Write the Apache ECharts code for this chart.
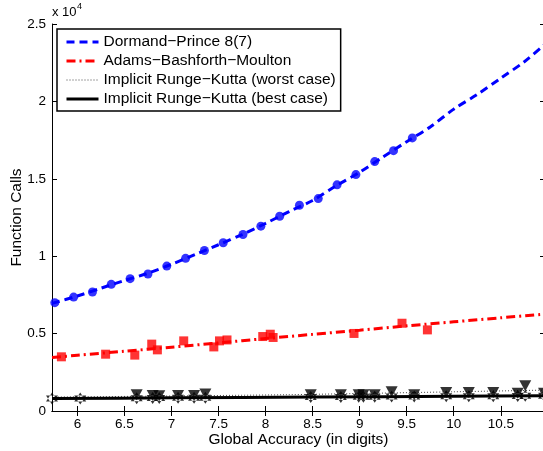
<!DOCTYPE html>
<html><head><meta charset="utf-8">
<script src="https://cdn.jsdelivr.net/npm/echarts@6/dist/echarts.min.js"></script>
<style>html,body{margin:0;padding:0;background:#fff}#c{width:543px;height:451px}</style>
</head><body><div id="c"></div>
<script>
// ---- data (x = global accuracy in digits, y = function calls) ----
const xTicks = [6, 6.5, 7, 7.5, 8, 8.5, 9, 9.5, 10, 10.5];
const yTicks = [0, 5000, 10000, 15000, 20000, 25000];

const dpFit = [[5.73,6950],[6.0,7430],[6.25,7930],[6.5,8430],[6.75,8900],[7.0,9480],[7.25,10100],[7.5,10740],[7.75,11400],[8.0,12120],[8.25,12880],[8.5,13600],[8.75,14550],[9.0,15420],[9.25,16420],[9.5,17400],[9.75,18350],[10.0,19500],[10.25,20450],[10.5,21500],[10.75,22560],[10.97,23700]];
const dpPts = [[5.76,7000],[5.96,7360],[6.16,7690],[6.36,8180],[6.56,8550],[6.75,8850],[6.95,9360],[7.15,9860],[7.35,10370],[7.55,10870],[7.76,11400],[7.95,11940],[8.15,12580],[8.36,13290],[8.56,13720],[8.76,14610],[8.96,15270],[9.16,16110],[9.36,16820],[9.56,17640]];

const abmFit = [[5.73,3450],[6.0,3600],[6.5,3860],[7.0,4120],[7.5,4400],[8.0,4680],[8.5,4950],[9.0,5220],[9.5,5500],[10.0,5760],[10.5,6020],[10.97,6260]];
const abmPts = [[5.83,3500],[6.30,3670],[6.61,3610],[6.79,4320],[6.85,3950],[7.13,4530],[7.45,4140],[7.51,4530],[7.59,4590],[7.97,4810],[8.05,4960],[8.08,4750],[8.94,5010],[9.45,5670],[9.72,5240]];

const irkWorstFit = [[5.73,900],[7.0,970],[8.2,1050],[9.0,1130],[10.0,1240],[10.97,1350]];
const irkWorstPts = [[6.63,1050],[6.80,1000],[6.87,980],[7.07,1000],[7.24,1000],[7.36,1100],[8.48,1050],[8.80,1050],[8.99,1050],[9.04,1050],[9.16,1050],[9.34,1250],[9.58,1050],[9.92,1200],[10.16,1200],[10.42,1200],[10.68,1150],[10.76,1630],[10.96,1150]];

const irkBestFit = [[5.73,800],[7.0,850],[8.5,900],[10.0,950],[10.97,990]];
const irkBestPts = [[5.73,800],[6.03,810],[6.63,830],[6.80,840],[6.87,840],[7.07,850],[7.24,860],[7.36,860],[8.48,900],[8.80,910],[8.99,920],[9.04,920],[9.16,920],[9.34,930],[9.58,940],[9.92,950],[10.16,960],[10.42,960],[10.68,970],[10.76,980],[10.96,990]];

const names = ['Dormand\u2212Prince 8(7)','Adams\u2212Bashforth\u2212Moulton','Implicit Runge\u2212Kutta (worst case)','Implicit Runge\u2212Kutta (best case)'];

const FONT = '"Liberation Sans", Arial, Helvetica, sans-serif';
const hexagram = 'path://M0,-10 L8.66,5 L-8.66,5 Z M0,10 L8.66,-5 L-8.66,-5 Z';

const chart = echarts.init(document.getElementById('c'), null, {renderer:'canvas'});
const fmtX = v => String(+v.toFixed(1));
chart.setOption({
  animation: false,
  backgroundColor: '#fff',
  textStyle: {fontFamily: FONT},
  grid: {left: 52, right: -2, top: 24, bottom: 40, containLabel: false, outerBoundsMode: 'none'},
  xAxis: [{
    type: 'value', min: 5.73, max: 10.97, position: 'bottom',
    name: 'Global Accuracy (in digits)', nameLocation: 'middle', nameGap: 21, nameMoveOverlap: false,
    nameTextStyle: {fontSize: 15.5, color: '#000', fontFamily: FONT, verticalAlign: 'top'},
    axisLine: {show: true, lineStyle: {color: '#000', width: 1}},
    axisTick: {show: true, inside: true, length: 5, lineStyle: {color: '#000'}, customValues: xTicks},
    axisLabel: {show: true, customValues: xTicks, formatter: fmtX, fontSize: 13.5, color: '#000', margin: 6, fontFamily: FONT},
    splitLine: {show: false}
  },{
    type: 'value', min: 5.73, max: 10.97, position: 'top',
    axisLine: {show: true, lineStyle: {color: '#000', width: 1}},
    axisTick: {show: true, inside: true, length: 5, lineStyle: {color: '#000'}, customValues: xTicks},
    axisLabel: {show: false},
    splitLine: {show: false}
  }],
  yAxis: [{
    type: 'value', min: 0, max: 25000, interval: 5000, position: 'left',
    name: 'Function Calls', nameLocation: 'middle', nameGap: 27, nameRotate: 90, nameMoveOverlap: false,
    nameTextStyle: {fontSize: 15.5, color: '#000', fontFamily: FONT},
    axisLine: {show: true, lineStyle: {color: '#000', width: 1}},
    axisTick: {show: true, inside: true, length: 5, lineStyle: {color: '#000'}},
    axisLabel: {formatter: v => String(v/10000), fontSize: 13.5, color: '#000', margin: 6, fontFamily: FONT},
    splitLine: {show: false}
  },{
    type: 'value', min: 0, max: 25000, interval: 5000, position: 'right',
    axisLine: {show: true, lineStyle: {color: '#000', width: 1}},
    axisTick: {show: true, inside: true, length: 5, lineStyle: {color: '#000'}},
    axisLabel: {show: false},
    splitLine: {show: false}
  }],
  legend: {
    data: names, orient: 'vertical', left: 57, top: 29,
    backgroundColor: '#fff', borderColor: '#000', borderWidth: 1.5,
    padding: [5, 5, 4, 8], itemGap: 3, itemWidth: 32, itemHeight: 16,
    textStyle: {fontSize: 15.5, color: '#000', fontFamily: FONT},
    itemStyle: {opacity: 0},
    lineStyle: {width: 'inherit'}
  },
  graphic: [
    {type: 'text', left: 52, top: 6, style: {text: 'x 10', fontSize: 13, fill: '#000', fontFamily: FONT}},
    {type: 'text', left: 77, top: 2, style: {text: '4', fontSize: 9, fill: '#000', fontFamily: FONT}}
  ],
  series: [
    {name: names[0], type: 'line', data: dpFit, smooth: 0.3, symbol: 'none', z: 3,
     lineStyle: {color: '#0000ff', width: 3, type: [8, 5]}, itemStyle: {color: '#0000ff'}},
    {name: names[1], type: 'line', data: abmFit, smooth: 0.3, symbol: 'none', z: 3,
     lineStyle: {color: '#ff0000', width: 3, type: [9, 4, 2, 4]}, itemStyle: {color: '#ff0000'}},
    {name: names[2], type: 'line', data: irkWorstFit, smooth: 0.3, symbol: 'none', z: 3,
     lineStyle: {color: '#444', width: 1, type: [1, 2]}, itemStyle: {color: '#444'}},
    {name: names[3], type: 'line', data: irkBestFit, smooth: 0.3, symbol: 'none', z: 3,
     lineStyle: {color: '#000', width: 3}, itemStyle: {color: '#000'}},
    {type: 'scatter', data: dpPts, symbol: 'circle', symbolSize: 9, itemStyle: {color: '#0000ff'}, z: 4},
    {type: 'scatter', data: abmPts, symbol: 'rect', symbolSize: 9, itemStyle: {color: '#ff0000'}, z: 4},
    {type: 'scatter', data: irkWorstPts, symbol: 'triangle', symbolRotate: 180, symbolSize: [12, 11], itemStyle: {color: '#000'}, z: 4},
    {type: 'scatter', data: irkBestPts, symbol: hexagram, symbolSize: [12, 12], itemStyle: {color: '#000'}, z: 4}
  ]
});
</script>
</body></html>
